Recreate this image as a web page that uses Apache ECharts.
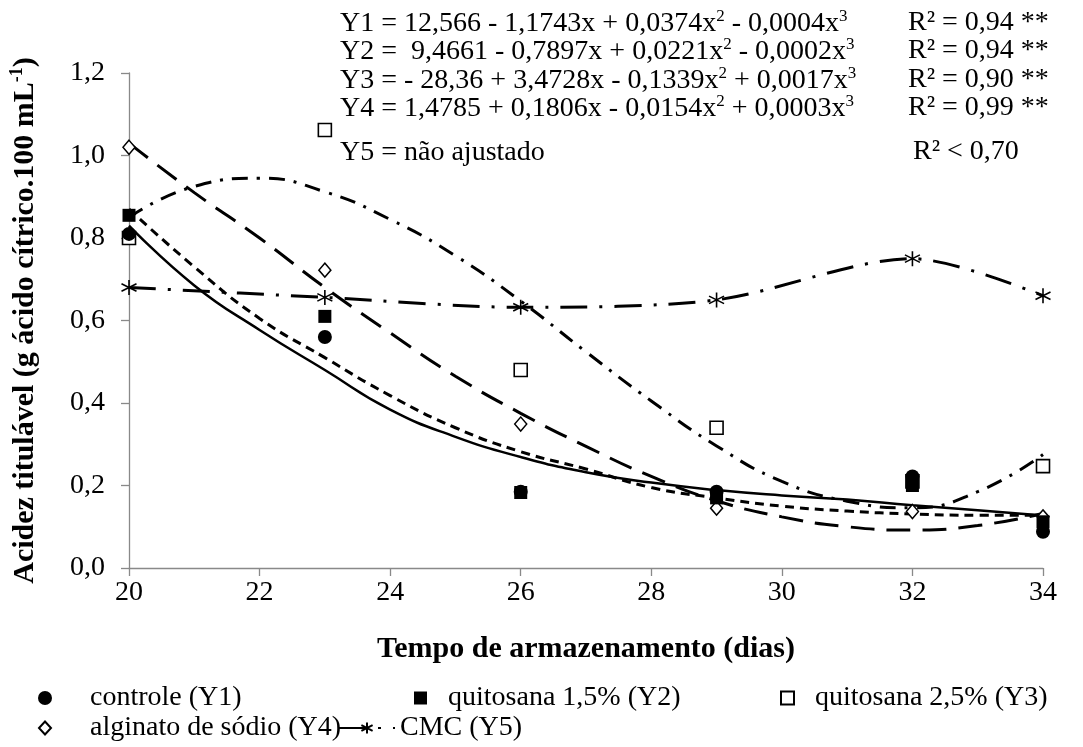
<!DOCTYPE html>
<html>
<head>
<meta charset="utf-8">
<script src="https://cdn.jsdelivr.net/npm/echarts@6/dist/echarts.min.js"></script>
<style>
  html, body { margin: 0; padding: 0; background: #fff; }
  #chart { width: 1083px; height: 747px; }
</style>
</head>
<body>
<div id="chart"></div>
<script>
// Observed titratable acidity per storage day
const days = [20, 23, 26, 29, 32, 34];
const controle = [0.81, 0.56, 0.185, 0.185, 0.222, 0.088];
const quitosana15 = [0.855, 0.61, 0.183, 0.17, 0.20, 0.112];
const quitosana25 = [0.80, 1.062, 0.48, 0.34, 0.21, 0.247];
const alginato = [1.02, 0.722, 0.349, 0.145, 0.137, 0.124];
const cmc = [0.68, 0.656, 0.632, 0.65, 0.75, 0.66];

// Fitted cubic trend curves, sampled per day
const trendDays = [20, 21, 22, 23, 24, 25, 26, 27, 28, 29, 30, 31, 32, 33, 34];
const trendY1 = [0.83, 0.685, 0.577, 0.48, 0.384, 0.318, 0.269, 0.232, 0.207, 0.189, 0.176, 0.166, 0.152, 0.14, 0.127];
const trendY2 = [0.87, 0.73, 0.605, 0.51, 0.418, 0.34, 0.282, 0.24, 0.195, 0.17, 0.15, 0.138, 0.131, 0.128, 0.128];
const trendY3 = [0.85, 0.925, 0.945, 0.912, 0.845, 0.757, 0.647, 0.524, 0.405, 0.296, 0.21, 0.162, 0.146, 0.185, 0.275];
const trendY4 = [1.03, 0.91, 0.80, 0.68, 0.57, 0.465, 0.375, 0.295, 0.222, 0.163, 0.124, 0.10, 0.092, 0.103, 0.132];

// Regression equations shown above the plot
const equations = [
  ['Y1 = 12,566 - 1,1743x + 0,0374x', '2', ' - 0,0004x', '3'],
  ['Y2 =  9,4661 - 0,7897x + 0,0221x', '2', ' - 0,0002x', '3'],
  ['Y3 = - 28,36 + 3,4728x - 0,1339x', '2', ' + 0,0017x', '3'],
  ['Y4 = 1,4785 + 0,1806x - 0,0154x', '2', ' + 0,0003x', '3'],
  ['Y5 = não ajustado']
];
const r2Labels = ['R² = 0,94 **', 'R² = 0,94 **', 'R² = 0,90 **', 'R² = 0,99 **', 'R² < 0,70'];

const FONT = '"Liberation Serif", "Times New Roman", serif';
const eqRowY = [23, 51, 80, 108, 152];

const pair = (xs, ys) => xs.map((x, i) => [x, ys[i]]);

const asterisk = 'path://M0,-10L0,10M-8.66,-5L8.66,5M-8.66,5L8.66,-5';

function eqText(parts) {
  let s = '';
  parts.forEach((p, i) => { s += (i % 2 === 0) ? '{n|' + p + '}' : '{s|' + p + '}'; });
  return s;
}

const graphics = [];
equations.forEach((parts, i) => {
  graphics.push({
    type: 'text', x: 340, y: eqRowY[i],
    style: {
      text: eqText(parts), verticalAlign: 'middle', align: 'left',
      rich: {
        n: { fontFamily: FONT, fontSize: 28, lineHeight: 30, verticalAlign: 'bottom', fill: '#000' },
        s: { fontFamily: FONT, fontSize: 17, lineHeight: 19, verticalAlign: 'top', fill: '#000' }
      }
    }
  });
  graphics.push({
    type: 'text', x: i === 4 ? 913 : 908, y: eqRowY[i],
    style: { text: r2Labels[i], fontFamily: FONT, fontSize: 28, fill: '#000', verticalAlign: 'middle', align: 'left' }
  });
});

const lineBase = { type: 'line', symbol: 'none', smooth: true, silent: true, z: 2 };
const legendText = pad => ({ fontFamily: FONT, fontSize: 28, color: '#000', padding: [0, 0, 0, pad] });

const option = {
  animation: false,
  backgroundColor: '#fff',
  grid: { left: 129, right: 40, top: 73, bottom: 179 },
  xAxis: {
    type: 'value', min: 20, max: 34, interval: 2,
    name: 'Tempo de armazenamento (dias)', nameLocation: 'middle', nameGap: 66,
    nameTextStyle: { fontFamily: FONT, fontSize: 30, fontWeight: 'bold', color: '#000' },
    axisLine: { lineStyle: { color: '#898989', width: 1.3 } },
    axisTick: { show: true, length: 8, lineStyle: { color: '#898989', width: 1.3 } },
    axisLabel: { fontFamily: FONT, fontSize: 28, color: '#000', margin: 11 },
    splitLine: { show: false }
  },
  yAxis: {
    type: 'value', min: 0, max: 1.2, interval: 0.2,
    name: '{b|Acidez titulável (g ácido cítrico.100 mL}{s|-1}{b|)}',
    nameLocation: 'middle', nameGap: 89, nameRotate: 90,
    nameTextStyle: {
      rich: {
        b: { fontFamily: FONT, fontSize: 30, fontWeight: 'bold', color: '#000', lineHeight: 32, verticalAlign: 'bottom' },
        s: { fontFamily: FONT, fontSize: 18, fontWeight: 'bold', color: '#000', lineHeight: 20, verticalAlign: 'top' }
      }
    },
    axisLine: { show: true, lineStyle: { color: '#898989', width: 1.3 } },
    axisTick: { show: true, length: 8, lineStyle: { color: '#898989', width: 1.3 } },
    axisLabel: {
      fontFamily: FONT, fontSize: 28, color: '#000', margin: 24,
      formatter: v => v.toFixed(1).replace('.', ',')
    },
    splitLine: { show: false }
  },
  legend: [
    { left: 38, top: 684, padding: 0, itemWidth: 14, itemHeight: 14, data: ['controle (Y1)'], textStyle: legendText(33) },
    { left: 414, top: 684, padding: 0, itemWidth: 13, itemHeight: 13, data: ['quitosana 1,5% (Y2)'], textStyle: legendText(16) },
    { left: 780, top: 684, padding: 0, itemWidth: 13, itemHeight: 13, data: ['quitosana 2,5% (Y3)'], textStyle: legendText(16) },
    { left: 38, top: 714, padding: 0, itemWidth: 12, itemHeight: 13, data: ['alginato de sódio (Y4)'], textStyle: legendText(34) },
    { left: 338, top: 714, padding: 0, itemWidth: 56, itemHeight: 14, data: ['CMC (Y5)'], textStyle: legendText(0) }
  ],
  graphic: graphics,
  series: [
    Object.assign({}, lineBase, { name: 'trend Y1', data: pair(trendDays, trendY1),
      lineStyle: { color: '#000', width: 2.5, type: 'solid' } }),
    Object.assign({}, lineBase, { name: 'trend Y2', data: pair(trendDays, trendY2),
      lineStyle: { color: '#000', width: 3, type: [9, 6] } }),
    Object.assign({}, lineBase, { name: 'trend Y3', data: pair(trendDays, trendY3),
      lineStyle: { color: '#000', width: 3, type: [16, 9, 3, 9] } }),
    Object.assign({}, lineBase, { name: 'trend Y4', data: pair(trendDays, trendY4),
      lineStyle: { color: '#000', width: 3, type: [24, 12] } }),
    {
      name: 'CMC (Y5)', type: 'line', smooth: 0.3, data: pair(days, cmc), z: 3,
      symbol: asterisk, symbolSize: 15, showAllSymbol: true,
      lineStyle: { color: '#000', width: 3, type: [27, 12, 3, 12] },
      itemStyle: { color: '#000', borderColor: '#000', borderWidth: 1.6 }
    },
    {
      name: 'quitosana 2,5% (Y3)', type: 'scatter', data: pair(days, quitosana25), z: 4,
      symbol: 'rect', symbolSize: 13,
      itemStyle: { color: '#fff', borderColor: '#000', borderWidth: 1.6, opacity: 1 }
    },
    {
      name: 'alginato de sódio (Y4)', type: 'scatter', data: pair(days, alginato), z: 4,
      symbol: 'diamond', symbolSize: [12, 14],
      itemStyle: { color: '#fff', borderColor: '#000', borderWidth: 1.5, opacity: 1 }
    },
    {
      name: 'quitosana 1,5% (Y2)', type: 'scatter', data: pair(days, quitosana15), z: 5,
      symbol: 'rect', symbolSize: 13,
      itemStyle: { color: '#000', opacity: 1 }
    },
    {
      name: 'controle (Y1)', type: 'scatter', data: pair(days, controle), z: 5,
      symbol: 'circle', symbolSize: 14,
      itemStyle: { color: '#000', opacity: 1 }
    }
  ]
};

const chart = echarts.init(document.getElementById('chart'), null, { renderer: 'canvas' });
chart.setOption(option);
</script>
</body>
</html>
